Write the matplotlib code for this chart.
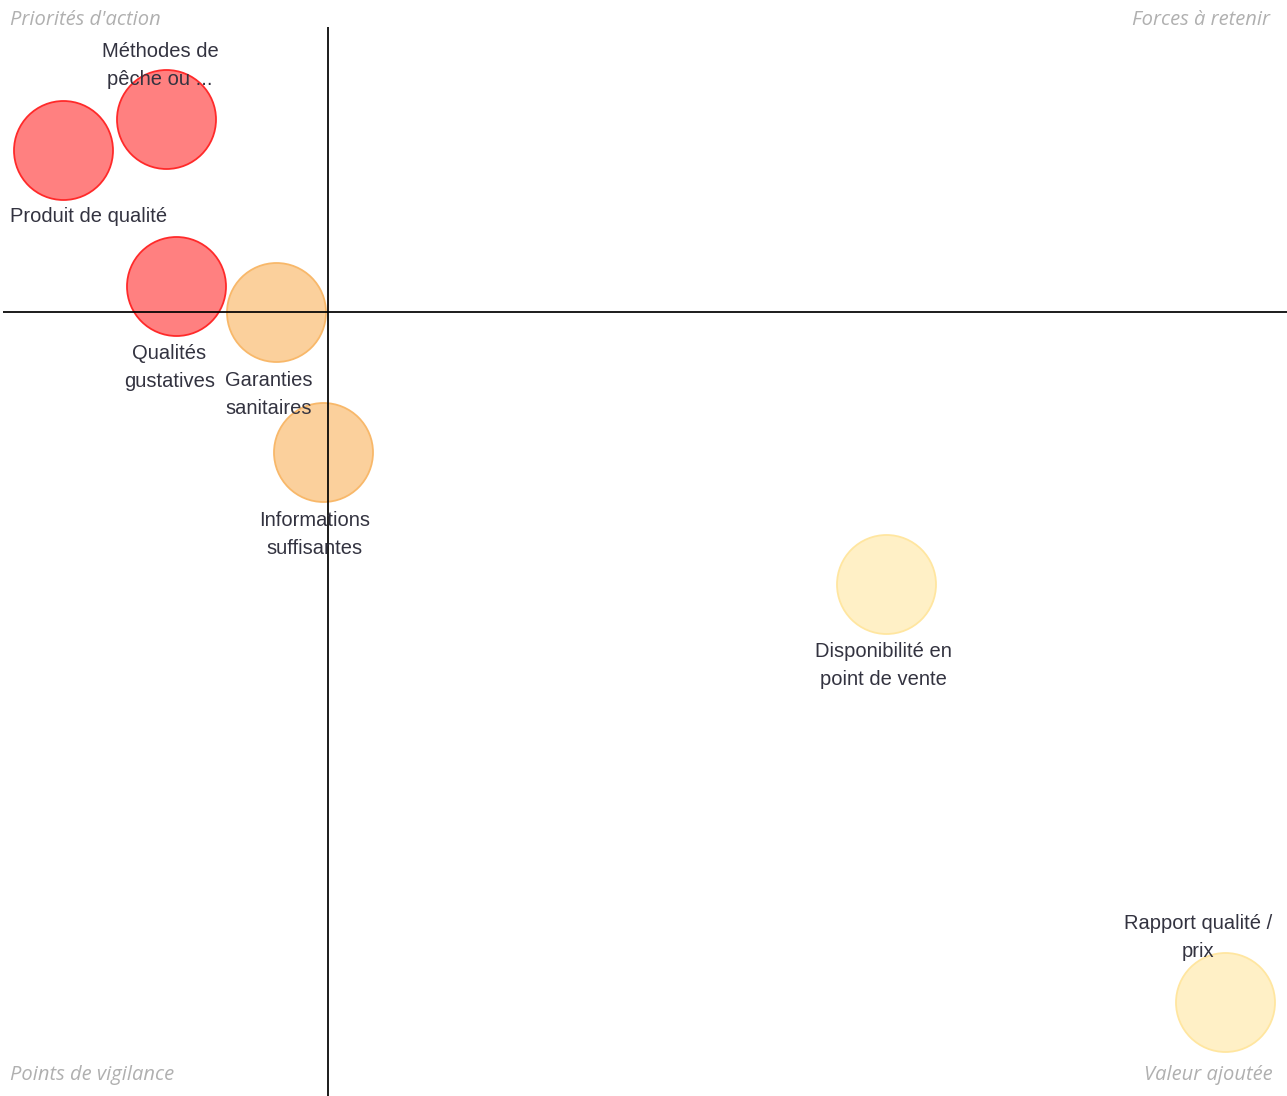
import matplotlib.pyplot as plt
import numpy as np

# DATA
labels = ["Produit de qualité", "Méthodes de\npêche ou ...", "Qualités\ngustatives",
          "Garanties\nsanitaires", "Informations\nsuffisantes",
          "Disponibilité en\npoint de vente", "Rapport qualité /\nprix"]
x_vals = [-20.6, -12.6, -11.8, -4.0, -0.4, 43.5, 69.9]
y_vals = [15.2, 18.1, 2.5, 0.0, -13.1, -25.4, -64.5]
groups = ["red", "red", "red", "orange", "orange", "yellow", "yellow"]
corner_labels = ["Priorités d'action", "Forces à retenir", "Points de vigilance", "Valeur ajoutée"]

# STYLE
fill = {"red": "#FF8080", "orange": "#FBD09C", "yellow": "#FFF0C6"}
edge = {"red": "#FF2A2A", "orange": "#F8B86A", "yellow": "#FFE6A0"}
# label offsets in pixels (dx, dy) from bubble centre, dy positive = down
offsets = [(25, 67), (-6, -53), (-7, 82), (-8, 82), (-8, 82), (-3, 82), (-27, -64)]

W, H = 1287, 1096
fig = plt.figure(figsize=(W / 100, H / 100), dpi=100)
# axes spans pixel x 3..1287, y 27..1096
ax = fig.add_axes([3 / W, 0, 1 - 3 / W, (H - 27) / H])
ax.set_xlim(-25.3, 74.7)
ax.set_ylim(-73.3, 26.7)
ax.axis("off")

ax.axhline(0, color="black", lw=1.25, zorder=3)
ax.axvline(0, color="black", lw=1.25, zorder=3)

for x, y, g in zip(x_vals, y_vals, groups):
    ax.scatter(x, y, s=5080, color=fill[g], edgecolor=edge[g], linewidth=1.3, zorder=2)

for x, y, lab, (dx, dy) in zip(x_vals, y_vals, labels, offsets):
    ax.annotate(lab, (x, y), xytext=(dx * 0.72, -dy * 0.72), textcoords="offset points",
                ha="center", va="center", fontsize=14.5, family="Liberation Sans",
                color="#333340", linespacing=1.6, zorder=4)

ck = dict(fontsize=14.5, family="Open Sans", style="italic", color="#b0b0b0")
fig.text(10 / W, 1 - 20 / H, corner_labels[0], ha="left", va="center", **ck)
fig.text(1270 / W, 1 - 20 / H, corner_labels[1], ha="right", va="center", **ck)
fig.text(10 / W, 1 - 1075 / H, corner_labels[2], ha="left", va="center", **ck)
fig.text(1273 / W, 1 - 1075 / H, corner_labels[3], ha="right", va="center", **ck)

fig.savefig("out.png", dpi=100, facecolor="white")
